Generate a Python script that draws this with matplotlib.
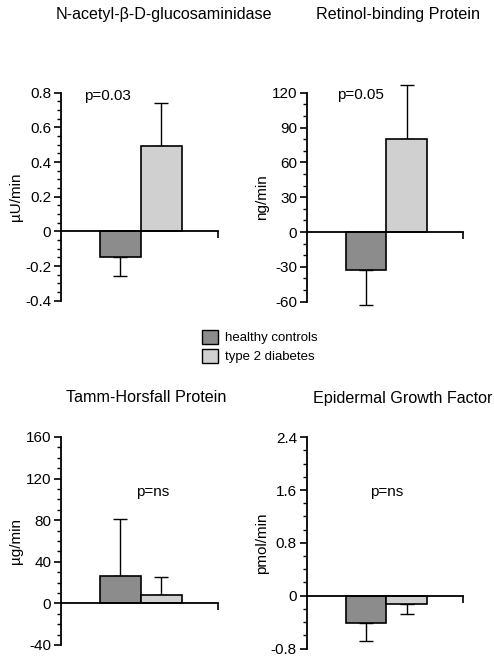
import matplotlib
matplotlib.use("Agg")
import matplotlib.pyplot as plt
from matplotlib.patches import Patch
from matplotlib.ticker import MultipleLocator, FuncFormatter

plt.rcParams['font.family'] = ['Liberation Sans', 'DejaVu Sans']

titles = ["N-acetyl-\u03b2-D-glucosaminidase", "Retinol-binding Protein",
          "Tamm-Horsfall Protein", "Epidermal Growth Factor"]
ylabels = ["\u00b5U/min", "ng/min", "\u00b5g/min", "pmol/min"]
pvals = ["p=0.03", "p=0.05", "p=ns", "p=ns"]
groups = ["healthy controls", "type 2 diabetes"]
controls = [-0.15, -33, 26, -0.42]
controls_err = [0.11, 30, 55, 0.27]
diabetes = [0.49, 80, 8, -0.12]
diabetes_err = [0.25, 47, 17, 0.15]
ylims = [(-0.4, 0.8), (-60, 120), (-40, 160), (-0.8, 2.4)]
major = [0.2, 30, 40, 0.8]
minor = [0.05, 10, 10, 0.2]

colors = ["#8c8c8c", "#d0d0d0"]

W, H = 494, 656
fig = plt.figure(figsize=(W / 100, H / 100), dpi=100)

# axes boxes in pixels: left, top, right, bottom
boxes = [(61, 92.7, 218, 300.7), (306.7, 92.7, 463.3, 301.7),
         (61, 437, 218, 645), (306.7, 437.2, 463.3, 648.5)]
ptext = [(0.293, 0.984), (0.345, 0.989), (0.583, 0.737), (0.511, 0.743)]
title_pos = [(164, 15, 'center'), (397.5, 15, 'center'), (146.5, 398, 'center'), (492, 398, 'right')]
ylabel_x = [23, 269, 23, 269]

for i in range(4):
    l, t, r, b = boxes[i]
    ax = fig.add_axes([l / W, 1 - b / H, (r - l) / W, (b - t) / H])
    xs = [0, 1]
    vals = [controls[i], diabetes[i]]
    errs = [controls_err[i], diabetes_err[i]]
    for x, v, e, c in zip(xs, vals, errs, colors):
        lo = e if v < 0 else 0
        hi = e if v >= 0 else 0
        ax.bar(x, v, width=1.0, color=c, edgecolor='black', linewidth=1.2, zorder=2)
        eb = ax.errorbar(x, v, yerr=[[lo], [hi]], fmt='none', ecolor='black',
                         elinewidth=1.0, capsize=5, capthick=1.0, zorder=1)
        for art in eb.lines[1] + eb.lines[2]:
            art.set_clip_on(False)
    ax.set_xlim(-1.45, 2.38)
    ax.set_ylim(*ylims[i])
    ax.spines['top'].set_visible(False)
    ax.spines['right'].set_visible(False)
    ax.spines['bottom'].set_position(('data', 0))
    ax.spines['left'].set_linewidth(1.3)
    ax.spines['bottom'].set_linewidth(1.3)
    ax.spines['left'].set_zorder(3)
    ax.spines['bottom'].set_zorder(3)
    ax.set_xticks([2.38])
    ax.set_xticklabels([])
    ax.tick_params(axis='x', direction='out', length=5, width=1.2)
    ax.yaxis.set_major_locator(MultipleLocator(major[i]))
    ax.yaxis.set_minor_locator(MultipleLocator(minor[i]))
    ax.tick_params(axis='y', which='major', direction='out', length=5, width=1.2,
                   labelsize=11, pad=2)
    ax.tick_params(axis='y', which='minor', direction='out', length=3, width=1.0)
    ax.yaxis.set_major_formatter(FuncFormatter(lambda v, p: '%g' % round(v, 4)))
    ax.set_ylabel(ylabels[i], fontsize=11)
    ax.yaxis.set_label_coords((ylabel_x[i] - l) / (r - l), 0.5)
    ax.text(ptext[i][0], ptext[i][1], pvals[i], transform=ax.transAxes,
            ha='center', va='center', fontsize=11)
    tx, ty, ha = title_pos[i]
    fig.text(tx / W, 1 - ty / H, titles[i], ha=ha, va='center', fontsize=11.6)

handles = [Patch(facecolor=c, edgecolor='black', linewidth=1.0) for c in colors]
fig.legend(handles, groups, loc='upper left', bbox_to_anchor=(193 / W, 1 - 321 / H),
           frameon=False, fontsize=9.5, handlelength=1.2, handleheight=1.2,
           handletextpad=0.5, labelspacing=0.35, borderpad=0.2)

fig.savefig("out.png", dpi=100)
